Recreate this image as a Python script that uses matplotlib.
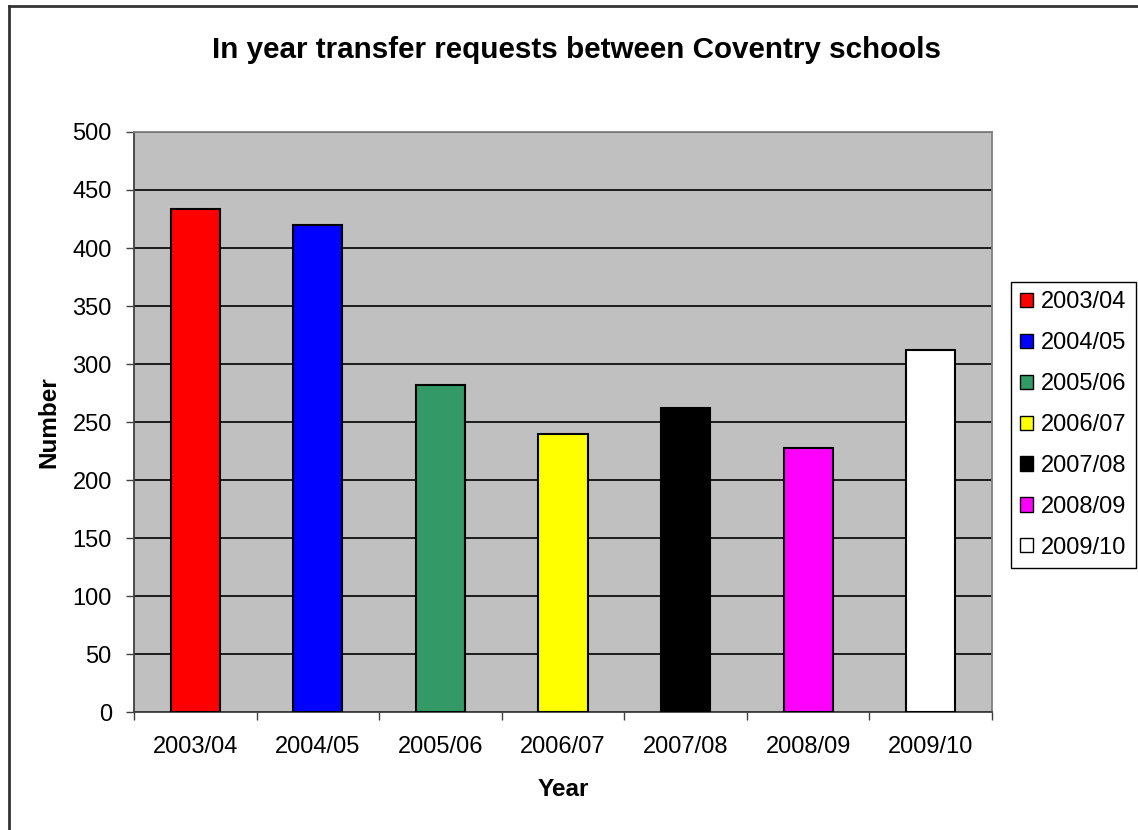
import matplotlib.pyplot as plt
from matplotlib.patches import Patch
from matplotlib.lines import Line2D

plt.rcParams['font.family'] = ['Liberation Sans', 'DejaVu Sans']

# Values
years = ["2003/04", "2004/05", "2005/06", "2006/07", "2007/08", "2008/09", "2009/10"]
requests = [434, 420, 282, 240, 262, 228, 312]
colours = ["#FF0000", "#0000FF", "#339966", "#FFFF00", "#000000", "#FF00FF", "#FFFFFF"]

fig = plt.figure(figsize=(11.38, 8.3), dpi=100)
ax = fig.add_axes([134 / 1138, 1 - 712 / 830, 858 / 1138, 580 / 830])
ax.set_facecolor("#C0C0C0")

x = list(range(len(years)))
ax.bar(x, requests, width=0.4, color=colours, edgecolor="black", linewidth=1.5, zorder=3)

ax.set_xlim(-0.5, len(years) - 0.5)
ax.set_ylim(0, 500)
ax.set_yticks(range(0, 501, 50))
ax.yaxis.grid(True, color="black", linewidth=1.2, zorder=1)
ax.set_axisbelow(True)

# category labels centred, tick marks at the boundaries
ax.set_xticks(x)
ax.set_xticklabels(years, fontsize=17)
ax.set_xticks([i - 0.5 for i in range(len(years) + 1)], minor=True)
ax.tick_params(axis="x", which="major", length=0, pad=17)
ax.tick_params(axis="x", which="minor", length=6, width=1, color="#404040", direction="out")
ax.tick_params(axis="y", length=6, width=1, color="#404040", labelsize=17, pad=10)

for side in ["left", "bottom"]:
    ax.spines[side].set_color("#404040")
    ax.spines[side].set_linewidth(1.3)
for side in ["top", "right"]:
    ax.spines[side].set_color("#808080")
    ax.spines[side].set_linewidth(1.3)

ax.set_ylabel("Number", fontsize=17.5, weight="bold", labelpad=9)
ax.set_xlabel("Year", fontsize=17.5, weight="bold", labelpad=15)
fig.text(576 / 1138, 1 - 50 / 830, "In year transfer requests between Coventry schools",
         ha="center", va="center", fontsize=21.3, weight="bold")

handles = [Patch(facecolor=c, edgecolor="black", linewidth=1) for c in colours]
leg = fig.legend(handles, years, loc="center left", bbox_to_anchor=(1011 / 1138, 1 - 425 / 830),
                 fontsize=17, frameon=True, fancybox=False, framealpha=1, edgecolor="black",
                 handlelength=0.55, handleheight=0.55, handletextpad=0.3, labelspacing=0.8,
                 borderpad=0.4, borderaxespad=0)
leg.get_frame().set_linewidth(1)

# outer chart border (only left and top visible in the crop)
fig.add_artist(Line2D([9 / 1138, 9 / 1138], [0, 1 - 6 / 830], color="#333333", linewidth=2))
fig.add_artist(Line2D([9 / 1138, 1], [1 - 6 / 830, 1 - 6 / 830], color="#333333", linewidth=2))

fig.savefig("out.png", dpi=100)
